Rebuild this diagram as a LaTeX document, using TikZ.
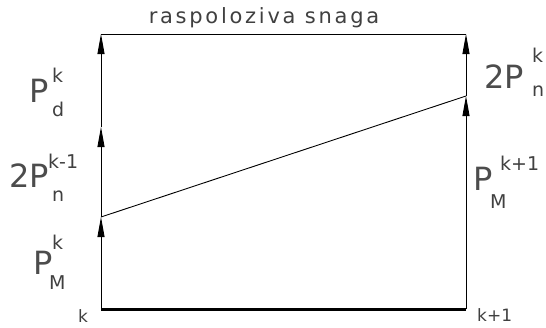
\documentclass[tikz,border=0pt]{standalone}
\usepackage{fontspec}
\setmainfont{DejaVu Sans}
\usetikzlibrary{arrows.meta}
\tikzset{
  mainlbl/.style = {inner sep=0pt,anchor=base west,text=black!70,
                    font=\fontsize{32}{36}\selectfont},
  idxlbl/.style  = {inner sep=0pt,anchor=base west,text=black!75,
                    font=\fontsize{19}{21}\selectfont},
  ticklbl/.style = {inner sep=0pt,anchor=base west,text=black!75,
                    font=\fontsize{17}{20}\selectfont},
  toplbl/.style  = {inner sep=0pt,anchor=base,text=black!75,
                    font=\fontsize{21}{23}\selectfont\addfontfeatures{LetterSpace=13}},
  sig/.style     = {-{Triangle[length=20pt,width=7pt]},line width=0.9pt},
  rim/.style     = {line width=0.9pt},
  groundline/.style = {line width=3pt},
}

\begin{document}
\begin{tikzpicture}[x=1pt,y=-1pt]
  \useasboundingbox (0,0) rectangle (546,327);
  % corner points
  \coordinate (k0)  at (101,309);
  \coordinate (k1)  at (466,309);
  \coordinate (lo)  at (101,217);
  \coordinate (mid) at (101,127);
  \coordinate (tl)  at (101,34);
  \coordinate (hi)  at (466,96);
  \coordinate (tr)  at (466,34);
  % frame
  \draw[groundline] (k0) -- (k1);
  \draw[rim] (tl) -- (tr);
  \draw[rim] (lo) -- (hi);
  % arrows
  \draw[sig] (k0) -- (lo);
  \draw[sig] (lo) -- (mid);
  \draw[sig] (mid) -- (tl);
  \draw[sig] (k1) -- (hi);
  \draw[sig] (hi) -- (tr);
  % labels
  \node[toplbl] (title) at (264,23) {raspoloziva snaga};
  \node[mainlbl] (PdP) at (29,102) {P};
  \node[idxlbl]  (Pdk) at (52,82)  {k};
  \node[idxlbl]  (Pdd) at (52,116) {d};
  \node[mainlbl] (PnP) at (9,187)  {2P};
  \node[idxlbl]  (Pnk) at (48,168) {k-1};
  \node[idxlbl]  (Pnn) at (52,201) {n};
  \node[mainlbl] (PmP) at (33,274) {P};
  \node[idxlbl]  (Pmk) at (52,249) {k};
  \node[idxlbl]  (PmM) at (49,289) {M};
  \node[mainlbl] (QnP) at (484,88) {2P};
  \node[idxlbl]  (Qnk) at (532,62) {k};
  \node[idxlbl]  (Qnn) at (532,96) {n};
  \node[mainlbl] (QmP) at (473,190) {P};
  \node[idxlbl]  (Qmk) at (500,170) {k+1};
  \node[idxlbl]  (QmM) at (490,208) {M};
  \node[ticklbl] (kk0) at (78,322)  {k};
  \node[ticklbl] (kk1) at (477,321) {k+1};
\end{tikzpicture}
\end{document}
